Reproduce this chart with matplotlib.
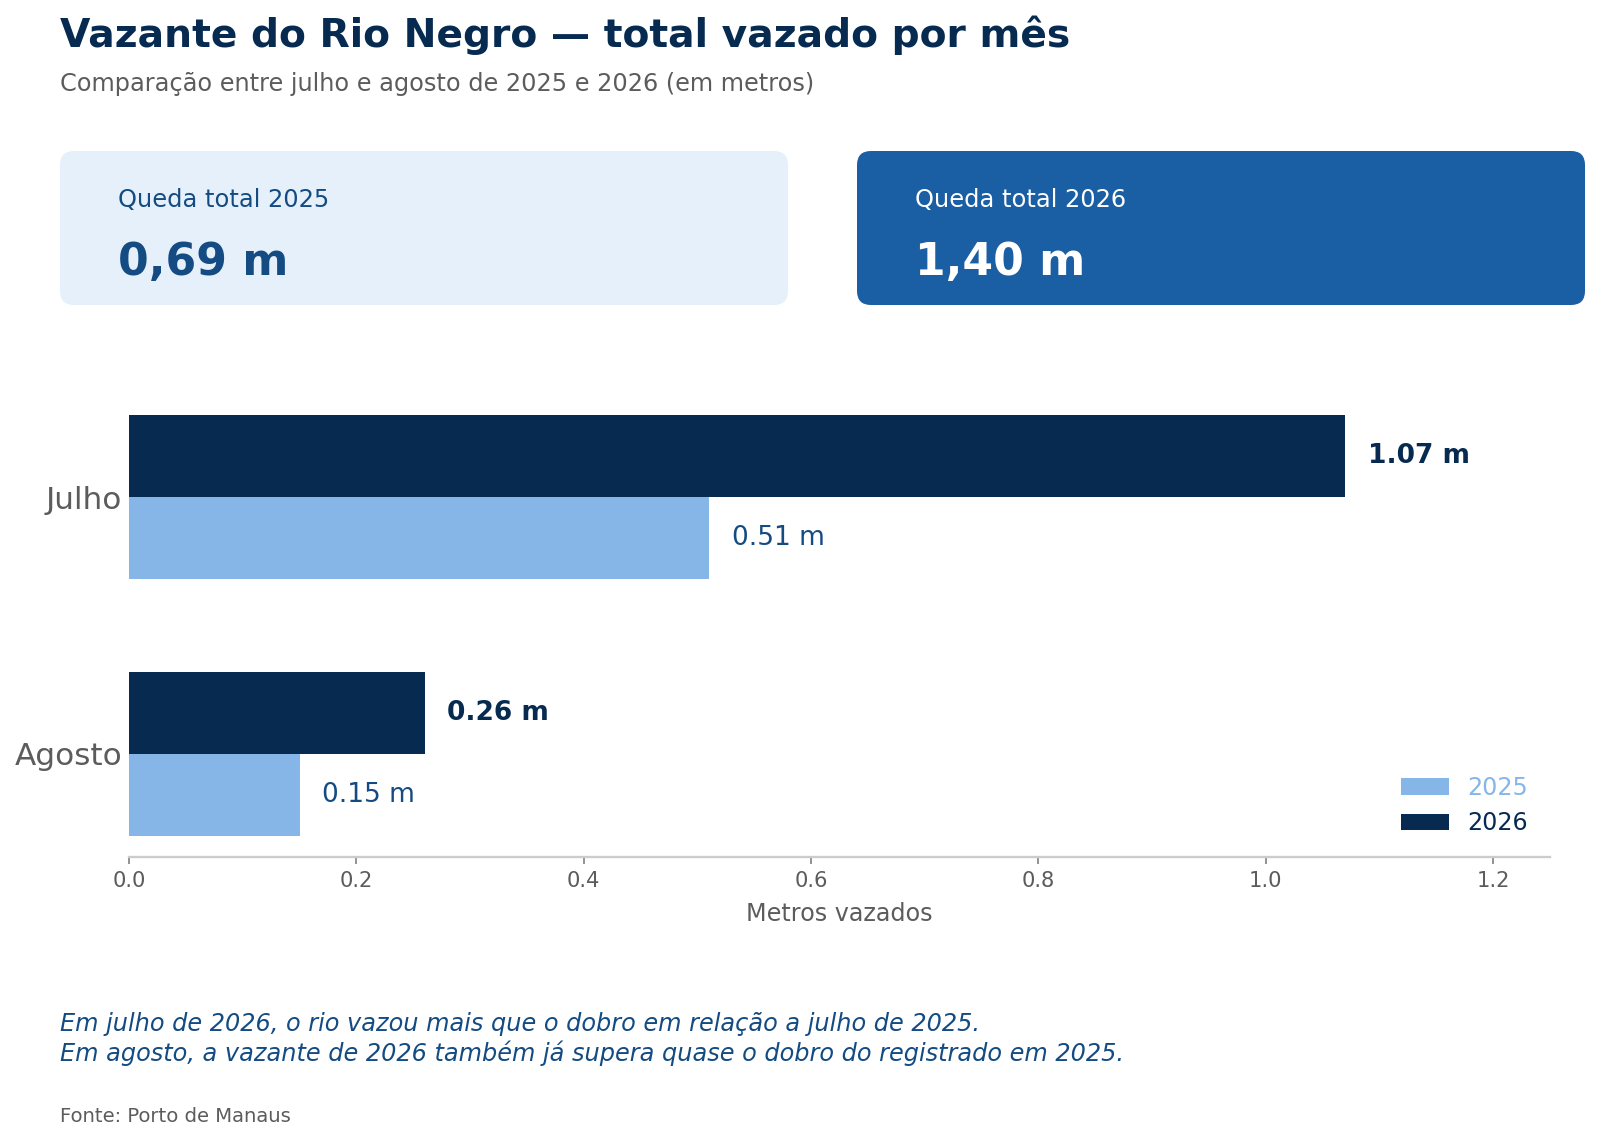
import matplotlib
matplotlib.use("Agg")
import matplotlib.pyplot as plt
from matplotlib.patches import FancyBboxPatch
import numpy as np

# data
months = ["Julho", "Agosto"]
vazado_2025 = [0.51, 0.15]
vazado_2026 = [1.07, 0.26]
card_years = ["2025", "2026"]
card_totals = ["0,69 m", "1,40 m"]
x_ticks = [0.0, 0.2, 0.4, 0.6, 0.8, 1.0, 1.2]

NAVY = "#072A50"
LIGHT = "#86B6E8"
MID = "#134B82"
CARD_LIGHT = "#E6F0FA"
CARD_DARK = "#1A5EA3"
GRAY = "#5C5C5C"

fig = plt.figure(figsize=(1600 / 140, 1141 / 140), dpi=140)

# overlay in pixel coords for header, cards and notes
ov = fig.add_axes([0, 0, 1, 1])
ov.set_xlim(0, 1600)
ov.set_ylim(1141, 0)
ov.axis("off")

ov.text(60, 47, "Vazante do Rio Negro — total vazado por mês", fontsize=20.2,
        fontweight="bold", color=NAVY, va="baseline")
ov.text(60, 91, "Comparação entre julho e agosto de 2025 e 2026 (em metros)",
        fontsize=12.35, color=GRAY, va="baseline")

card_x = [60, 857]
card_fc = [CARD_LIGHT, CARD_DARK]
card_tc = [MID, "white"]
for x0, fc, tc, yr, tot in zip(card_x, card_fc, card_tc, card_years, card_totals):
    ov.add_patch(FancyBboxPatch((x0, 151), 728, 154,
                                boxstyle="round,pad=0,rounding_size=14",
                                fc=fc, ec="none"))
    ov.text(x0 + 58, 207, f"Queda total {yr}", fontsize=12.4, color=tc, va="baseline")
    ov.text(x0 + 58, 275, tot, fontsize=22.7, fontweight="bold", color=tc, va="baseline")

ov.text(60, 1061,
        "Em julho de 2026, o rio vazou mais que o dobro em relação a julho de 2025.\n"
        "Em agosto, a vazante de 2026 também já supera quase o dobro do registrado em 2025.",
        fontsize=12.35, style="italic", color=MID, va="baseline", linespacing=1.2)
ov.text(60, 1122, "Fonte: Porto de Manaus", fontsize=10.1, color=GRAY, va="baseline")

# main chart
ax = fig.add_axes([129 / 1600, 1 - 857 / 1141, (1550 - 129) / 1600, (857 - 394) / 1141])
y = np.arange(len(months))
h = 0.32
b26 = ax.barh(y - h / 2, vazado_2026, height=h, color=NAVY, label="2026")
b25 = ax.barh(y + h / 2, vazado_2025, height=h, color=LIGHT, label="2025")
ax.invert_yaxis()

for v, yy in zip(vazado_2026, y - h / 2):
    ax.text(v + 0.02, yy, f"{v:.2f} m", va="center", ha="left", fontsize=13.6,
            fontweight="bold", color=NAVY)
for v, yy in zip(vazado_2025, y + h / 2):
    ax.text(v + 0.02, yy, f"{v:.2f} m", va="center", ha="left", fontsize=13.6,
            color=MID)

ax.set_xlim(0, 1.25)
ax.set_xticks(x_ticks)
ax.set_xticklabels([f"{t:.1f}" for t in x_ticks])
ax.set_yticks(y)
ax.set_yticklabels(months)
ax.tick_params(axis="y", length=0, labelsize=16, labelcolor=GRAY, pad=3.4)
ax.tick_params(axis="x", labelsize=10.8, labelcolor=GRAY, color="#777777", length=3.5)
ax.set_xlabel("Metros vazados", fontsize=12.3, color=GRAY, labelpad=6)
for s in ["top", "right", "left"]:
    ax.spines[s].set_visible(False)
ax.spines["bottom"].set_color("#CCCCCC")
ax.spines["bottom"].set_linewidth(1.2)

leg = ax.legend(handles=[b25, b26], labels=["2025", "2026"], loc="lower right",
                frameon=False, fontsize=12.3)
for txt, c in zip(leg.get_texts(), [LIGHT, NAVY]):
    txt.set_color(c)

fig.savefig("out.png", dpi=140)
